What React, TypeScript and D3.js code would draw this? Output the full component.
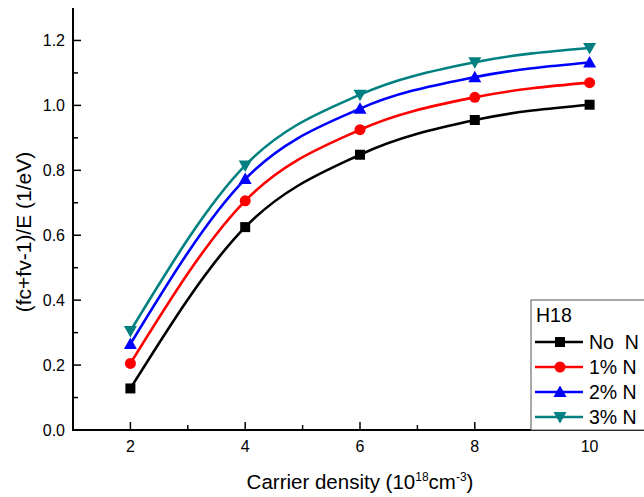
import React from "react";
import * as d3 from "d3";

const densities = [2, 4, 6, 8, 10];
const noN = [0.128, 0.625, 0.848, 0.955, 1.002];
const n1 = [0.205, 0.706, 0.925, 1.025, 1.07];
const n2 = [0.265, 0.773, 0.99, 1.087, 1.132];
const n3 = [0.305, 0.815, 1.033, 1.133, 1.177];
const seriesNames = ["No  N", "1% N", "2% N", "3% N"];
const seriesColors = ["#000000", "#ff0000", "#0000ff", "#008080"];
const seriesSymbols = ["square", "circle", "triangleUp", "triangleDown"];
const xTicks = [2, 4, 6, 8, 10];
const yTicks = [0, 0.2, 0.4, 0.6, 0.8, 1.0, 1.2];

const W = 644, H = 497;
const L = 73, T = 8, B = 430, R = 647;

function Marker({ type, x, y, color }: { type: string; x: number; y: number; color: string }) {
  if (type === "square") return <rect x={x - 5} y={y - 5} width={10} height={10} fill={color} />;
  if (type === "circle") return <circle cx={x} cy={y} r={5.5} fill={color} />;
  if (type === "triangleUp")
    return <path d={`M${x},${y - 6.5}L${x + 6.5},${y + 5}L${x - 6.5},${y + 5}Z`} fill={color} />;
  return <path d={`M${x},${y + 6.5}L${x + 6.5},${y - 5}L${x - 6.5},${y - 5}Z`} fill={color} />;
}

export default function App() {
  const x = d3.scaleLinear().domain([1, 11]).range([L, R]);
  const y = d3.scaleLinear().domain([0, 1.3]).range([B, T]);
  const all = [noN, n1, n2, n3];
  const line = d3
    .line<number>()
    .x((_, i) => x(densities[i]))
    .y((d) => y(d))
    .curve(d3.curveMonotoneX);
  const font = "'Liberation Sans', Arial, sans-serif";
  const yMinor = d3.range(0.1, 1.3, 0.2);
  const xMinor = [3, 5, 7, 9];

  return (
    <svg width={W} height={H} style={{ position: "absolute", left: 0, top: 0 }} fontFamily={font}>
      <rect width={W} height={H} fill="#fff" />
      {all.map((s, k) => (
        <g key={k}>
          <path d={line(s) || ""} fill="none" stroke={seriesColors[k]} strokeWidth={2.6} />
          {s.map((v, i) => (
            <Marker key={i} type={seriesSymbols[k]} x={x(densities[i])} y={y(v)} color={seriesColors[k]} />
          ))}
        </g>
      ))}
      {/* axes */}
      <line x1={L} y1={T} x2={L} y2={B + 1} stroke="#000" strokeWidth={2} />
      <line x1={L - 1} y1={B} x2={W} y2={B} stroke="#000" strokeWidth={2} />
      {yTicks.map((t) => (
        <g key={t}>
          <line x1={L} x2={L + 8} y1={y(t)} y2={y(t)} stroke="#000" strokeWidth={1.5} />
          <text x={L - 8} y={y(t)} dy="0.36em" textAnchor="end" fontSize={16}>
            {t.toFixed(1)}
          </text>
        </g>
      ))}
      {yMinor.map((t) => (
        <line key={t} x1={L} x2={L + 5} y1={y(t)} y2={y(t)} stroke="#000" strokeWidth={1.5} />
      ))}
      {xTicks.map((t) => (
        <g key={t}>
          <line x1={x(t)} x2={x(t)} y1={B} y2={B - 8} stroke="#000" strokeWidth={1.5} />
          <text x={x(t)} y={B + 22} textAnchor="middle" fontSize={16}>
            {t}
          </text>
        </g>
      ))}
      {xMinor.map((t) => (
        <line key={t} x1={x(t)} x2={x(t)} y1={B} y2={B - 5} stroke="#000" strokeWidth={1.5} />
      ))}
      <text x={360} y={489} textAnchor="middle" fontSize={20.5}>
        Carrier density (10<tspan dy={-8} fontSize={12}>18</tspan>
        <tspan dy={8}>cm</tspan>
        <tspan dy={-8} fontSize={12}>-3</tspan>
        <tspan dy={8}>)</tspan>
      </text>
      <text transform={`translate(31,${232}) rotate(-90)`} textAnchor="middle" fontSize={21}>
        (fc+fv-1)/E (1/eV)
      </text>
      {/* legend */}
      <g>
        <rect x={531} y={300} width={120} height={130} fill="#fff" stroke="#555" strokeWidth={1} />
        <text x={536} y={322} fontSize={19.5}>H18</text>
        {seriesNames.map((n, k) => {
          const ly = 342 + k * 25;
          return (
            <g key={n}>
              <line x1={535} x2={583} y1={ly} y2={ly} stroke={seriesColors[k]} strokeWidth={2.6} />
              <Marker type={seriesSymbols[k]} x={560} y={ly} color={seriesColors[k]} />
              <text x={589} y={ly} dy="0.36em" fontSize={19.5} style={{ whiteSpace: "pre" }}>
                {n}
              </text>
            </g>
          );
        })}
      </g>
    </svg>
  );
}
